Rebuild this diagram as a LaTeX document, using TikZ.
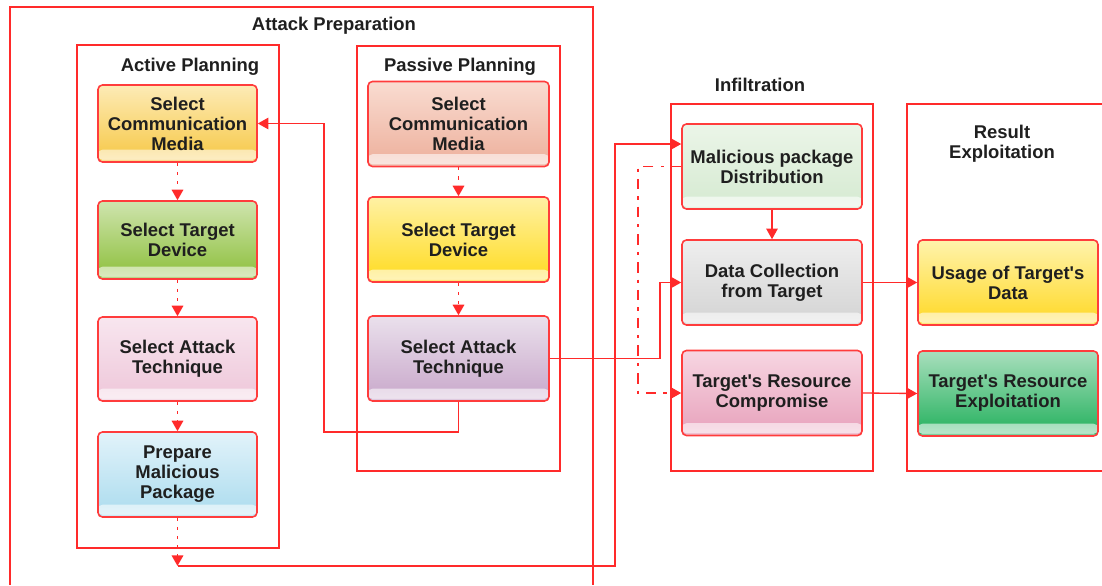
\documentclass[tikz,border=0pt]{standalone}
\usepackage{fontspec}
\setmainfont{Liberation Sans}
\usetikzlibrary{arrows.meta,calc}

\definecolor{lnred}{HTML}{FF2A2A}
\definecolor{bxred}{HTML}{FF3C3C}
% box fills: main colour and lighter top
\definecolor{aA}{HTML}{F6C744}\definecolor{aAt}{HTML}{FDEBB6}
\definecolor{aB}{HTML}{8CBF3A}\definecolor{aBt}{HTML}{CFE4AE}
\definecolor{aC}{HTML}{EEC6D9}\definecolor{aCt}{HTML}{F8E6EF}
\definecolor{aD}{HTML}{AADBEE}\definecolor{aDt}{HTML}{E2F3FA}
\definecolor{pA}{HTML}{EDAF9B}\definecolor{pAt}{HTML}{F9DCD1}
\definecolor{pB}{HTML}{FFDB1E}\definecolor{pBt}{HTML}{FFF1A4}
\definecolor{pC}{HTML}{C8A7CA}\definecolor{pCt}{HTML}{EAE0EC}
\definecolor{iA}{HTML}{D5EAD1}\definecolor{iAt}{HTML}{EBF5E8}
\definecolor{iB}{HTML}{D3D3D3}\definecolor{iBt}{HTML}{EEEEEE}
\definecolor{iC}{HTML}{E7A1BB}\definecolor{iCt}{HTML}{F7D6E2}
\definecolor{rA}{HTML}{FFD823}\definecolor{rAt}{HTML}{FFF3AC}
\definecolor{rB}{HTML}{22B05C}\definecolor{rBt}{HTML}{A9DFBD}

\newcommand{\apos}{\textquotesingle}

\begin{document}
\begin{tikzpicture}[x=0.02cm,y=-0.02cm,
  frame/.style={draw=lnred, line width=0.9pt},
  title/.style={font=\fontsize{10.5}{11.4}\selectfont\bfseries, align=center, inner sep=0pt, text=black!88},
  gbox/.style={draw=bxred, line width=0.9pt, rounded corners=2.5pt,
    top color=#1t, middle color=#1, bottom color=#1,
    align=center, inner sep=1pt, text=black!88,
    font=\fontsize{10.5}{11.4}\selectfont\bfseries,
    path picture={\shade[top color=#1, bottom color=#1!30!white]
      ([yshift=7pt]path picture bounding box.south west) rectangle
      ([yshift=1.2pt]path picture bounding box.south east);
      \fill[#1!60!white]
      ([yshift=1.2pt]path picture bounding box.south west) rectangle
      (path picture bounding box.south east);}},
  actbox/.style={minimum width=3.18cm, minimum height=1.6cm},
  pasbox/.style={minimum width=3.62cm, minimum height=1.7cm},
  infbox/.style={minimum width=3.6cm, minimum height=1.7cm},
  conn/.style={draw=lnred, line width=0.75pt},
  arr/.style={conn, -{Triangle[length=6pt,width=6.5pt]}},
  dotarr/.style={arr, line width=1.1pt, dash pattern=on 1.8pt off 3.4pt},
  dasharr/.style={arr, line width=0.9pt, dash pattern=on 6pt off 4pt on 1.8pt off 4pt},
]
\useasboundingbox (0,0) rectangle (1102,585);

% containers
\draw[frame] (10,585) -- (10,7) -- (593,7) -- (593,585);
\node[title] (tprep) at (334,26) {Attack Preparation};

\draw[frame] (77,45) rectangle (279,548);
\node[title] (tact) at (190,67) {Active Planning};

\draw[frame] (357,46) rectangle (560,471);
\node[title] (tpas) at (460,67) {Passive Planning};

\draw[frame] (671,104) rectangle (873,471);
\node[title] (tinf) at (760,85) {Infiltration};

\draw[frame] (1102,104) -- (907,104) -- (907,471) -- (1102,471);
\node[title] (tres) at (1002,144) {Result\\Exploitation};

% active planning
\node[gbox=aA, actbox, minimum height=1.54cm] (A1) at (177.5,123.5) {Select\\Communication\\Media};
\node[gbox=aB, actbox, minimum height=1.56cm] (A2) at (177.5,240) {Select Target\\Device};
\node[gbox=aC, actbox, minimum height=1.68cm] (A3) at (177.5,359) {Select Attack\\Technique};
\node[gbox=aD, actbox, minimum height=1.7cm] (A4) at (177.5,474.5) {Prepare\\Malicious\\Package};

% passive planning
\node[gbox=pA, pasbox] (P1) at (458.5,124) {Select\\Communication\\Media};
\node[gbox=pB, pasbox] (P2) at (458.5,239.5) {Select Target\\Device};
\node[gbox=pC, pasbox] (P3) at (458.5,358.5) {Select Attack\\Technique};

% infiltration
\node[gbox=iA, infbox] (I1) at (772,166.5) {Malicious package\\Distribution};
\node[gbox=iB, infbox] (I2) at (772,282.5) {Data Collection\\from Target};
\node[gbox=iC, infbox] (I3) at (772,393) {Target\apos s Resource\\Compromise};

% result exploitation
\node[gbox=rA, infbox] (R1) at (1008,282.5) {Usage of Target\apos s\\Data};
\node[gbox=rB, infbox] (R2) at (1008,393.5) {Target\apos s Resource\\Exploitation};

% turning points of the connectors
\coordinate (k1) at (324,432);
\coordinate (k2) at (660,320);
\coordinate (k3) at (177.5,566);
\coordinate (k4) at (615,144);
\coordinate (k5) at (638,280);

% planning steps
\draw[dotarr] (A1) -- (A2);
\draw[dotarr] (A2) -- (A3);
\draw[dotarr] (A3) -- (A4);
\draw[dotarr] (P1) -- (P2);
\draw[dotarr] (P2) -- (P3);

% feedback from passive to active planning
\draw[arr] (P3.south) |- (k1) |- (A1.east);

% into infiltration
\draw[arr] (P3.east) -| (k2) |- (I2.west);
\draw[dotarr] (A4.south) -- (k3);
\draw[arr] (k3) -| (k4) -- (k4 -| I1.west);
\draw[dasharr] (I1.west) -| (k5) |- (I3.west);
\draw[arr] (I1) -- (I2);

% into result exploitation
\draw[arr] (I2.east) -- (R1.west);
\draw[arr] (I3.east) -- (R2.west);
\end{tikzpicture}
\end{document}
